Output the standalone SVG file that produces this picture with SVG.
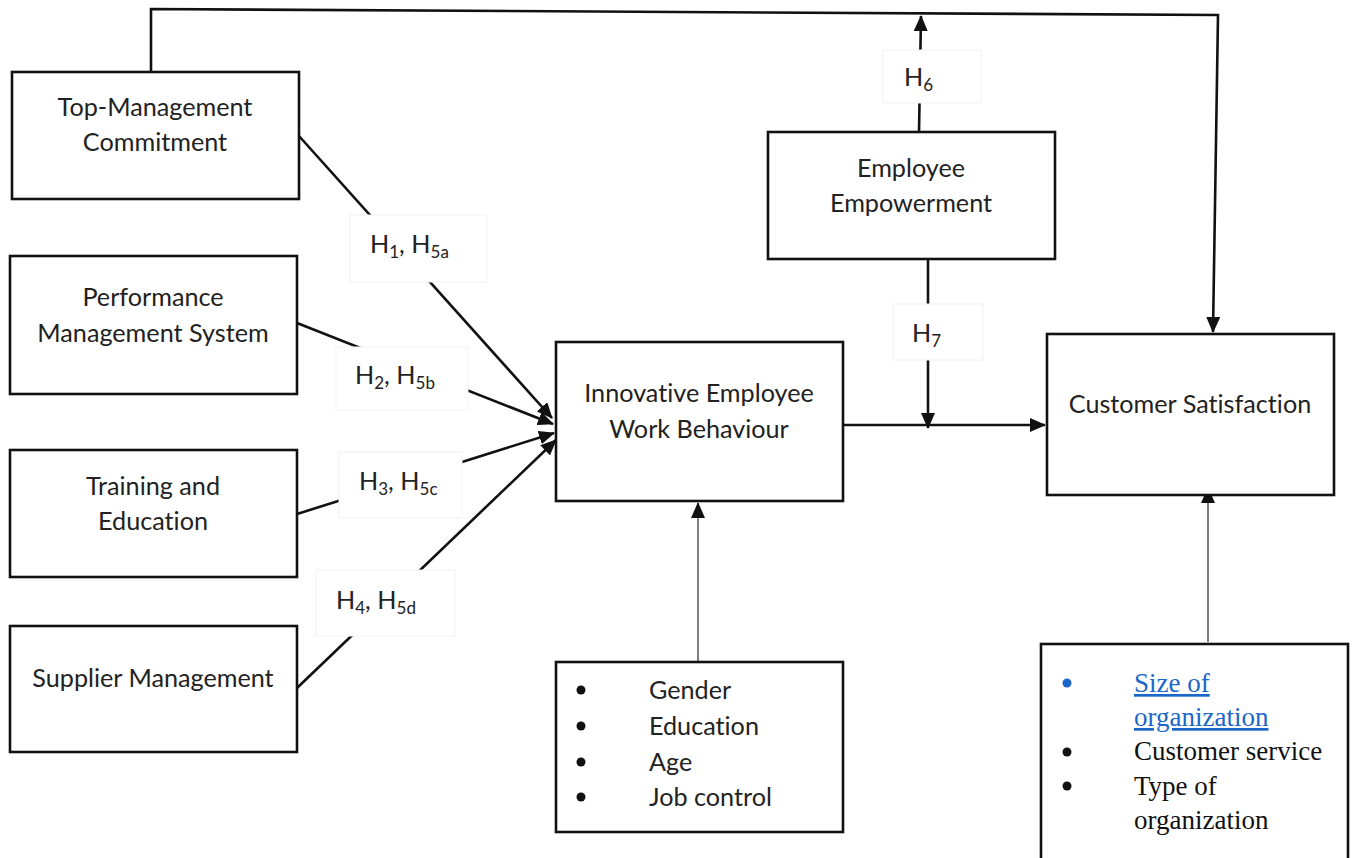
<svg xmlns="http://www.w3.org/2000/svg" width="1352" height="858" viewBox="0 0 1352 858">
<style>
.box{fill:#fff;stroke:#111;stroke-width:2.6}
.lbl{fill:#fff;stroke:#f2f2f2;stroke-width:1}
.t{font-family:Lato,"Open Sans",sans-serif;font-size:25.2px;fill:#222;font-variant-ligatures:none}
.tm{text-anchor:middle}
.sub{font-size:17px}
.ln{fill:none;stroke:#111;stroke-width:2.6}
.thin{fill:none;stroke:#555;stroke-width:1.5}
.tr{font-family:"Liberation Serif","Times New Roman",serif;font-size:27px;fill:#111}
</style>
<defs>
<marker id="ah" markerUnits="userSpaceOnUse" markerWidth="16" markerHeight="14" refX="15" refY="7" orient="auto">
<path d="M0,0 L16,7 L0,14 Z" fill="#111"/>
</marker>
</defs>

<g id="connectors">
<path class="ln" d="M151,72 L151,9 L1218,15 L1213,332" marker-end="url(#ah)"/>
<path class="ln" d="M919,132 L921,16" marker-end="url(#ah)"/>
<path class="ln" d="M299,136 L552,418" marker-end="url(#ah)"/>
<path class="ln" d="M297,323 L553,424" marker-end="url(#ah)"/>
<path class="ln" d="M297,514 L554,433" marker-end="url(#ah)"/>
<path class="ln" d="M297,688 L556,440" marker-end="url(#ah)"/>
<path class="ln" d="M843,425 L1045,425" marker-end="url(#ah)"/>
<path class="ln" d="M928,259 L928,428" marker-end="url(#ah)"/>
<path class="thin" d="M698,662 L698,503" marker-end="url(#ah)"/>
<path class="thin" d="M1208,642 L1208,488" marker-end="url(#ah)"/>
</g>

<g id="label-h1"><rect class="lbl" x="350" y="215" width="137" height="67"/>
<text class="t" x="370" y="253">H<tspan class="sub" dy="5">1</tspan><tspan dy="-5">, H</tspan><tspan class="sub" dy="5">5a</tspan></text></g>
<g id="label-h2"><rect class="lbl" x="336" y="347" width="132" height="63"/>
<text class="t" x="355" y="384">H<tspan class="sub" dy="5">2</tspan><tspan dy="-5">, H</tspan><tspan class="sub" dy="5">5b</tspan></text></g>
<g id="label-h3"><rect class="lbl" x="339" y="452" width="123" height="66"/>
<text class="t" x="359" y="490">H<tspan class="sub" dy="5">3</tspan><tspan dy="-5">, H</tspan><tspan class="sub" dy="5">5c</tspan></text></g>
<g id="label-h4"><rect class="lbl" x="316" y="570" width="139" height="66"/>
<text class="t" x="336" y="609">H<tspan class="sub" dy="5">4</tspan><tspan dy="-5">, H</tspan><tspan class="sub" dy="5">5d</tspan></text></g>
<g id="label-h6"><rect class="lbl" x="883" y="50" width="98" height="53"/>
<text class="t" x="904" y="86">H<tspan class="sub" dy="5">6</tspan></text></g>
<g id="label-h7"><rect class="lbl" x="893" y="304" width="90" height="56"/>
<text class="t" x="912" y="342">H<tspan class="sub" dy="5">7</tspan></text></g>

<g id="top-management"><rect class="box" x="12" y="72" width="287" height="127"/>
<text class="t tm" x="155" y="116">Top-Management</text>
<text class="t tm" x="155" y="151">Commitment</text></g>

<g id="performance"><rect class="box" x="10" y="256" width="287" height="138"/>
<text class="t tm" x="153" y="306">Performance</text>
<text class="t tm" x="153" y="342">Management System</text></g>

<g id="training"><rect class="box" x="10" y="450" width="287" height="127"/>
<text class="t tm" x="153" y="495">Training and</text>
<text class="t tm" x="153" y="530">Education</text></g>

<g id="supplier"><rect class="box" x="10" y="626" width="287" height="126"/>
<text class="t tm" x="153" y="687">Supplier Management</text></g>

<g id="iewb"><rect class="box" x="556" y="342" width="287" height="159"/>
<text class="t tm" x="699" y="402">Innovative Employee</text>
<text class="t tm" x="699" y="438">Work Behaviour</text></g>

<g id="empowerment"><rect class="box" x="768" y="132" width="287" height="127"/>
<text class="t tm" x="911" y="177">Employee</text>
<text class="t tm" x="911" y="212">Empowerment</text></g>

<g id="customer-satisfaction"><rect class="box" x="1047" y="334" width="287" height="161"/>
<text class="t tm" x="1190" y="413">Customer Satisfaction</text></g>

<g id="demographics"><rect class="box" x="556" y="662" width="287" height="170"/>
<circle cx="581" cy="690" r="4.5" fill="#111"/>
<circle cx="581" cy="726" r="4.5" fill="#111"/>
<circle cx="581" cy="762" r="4.5" fill="#111"/>
<circle cx="581" cy="797" r="4.5" fill="#111"/>
<text class="t" x="649" y="699">Gender</text>
<text class="t" x="649" y="735">Education</text>
<text class="t" x="649" y="771">Age</text>
<text class="t" x="649" y="806">Job control</text></g>

<g id="controls"><rect class="box" x="1041" y="644" width="307" height="216"/>
<circle cx="1067" cy="683" r="4.5" fill="#1a66c9"/>
<circle cx="1067" cy="752" r="4.5" fill="#111"/>
<circle cx="1067" cy="786" r="4.5" fill="#111"/>
<text class="tr" x="1134" y="692" style="fill:#1a66c9" text-decoration="underline">Size of</text>
<text class="tr" x="1134" y="726" style="fill:#1a66c9" text-decoration="underline">organization</text>
<text class="tr" x="1134" y="760">Customer service</text>
<text class="tr" x="1134" y="795">Type of</text>
<text class="tr" x="1134" y="829">organization</text></g>
</svg>
